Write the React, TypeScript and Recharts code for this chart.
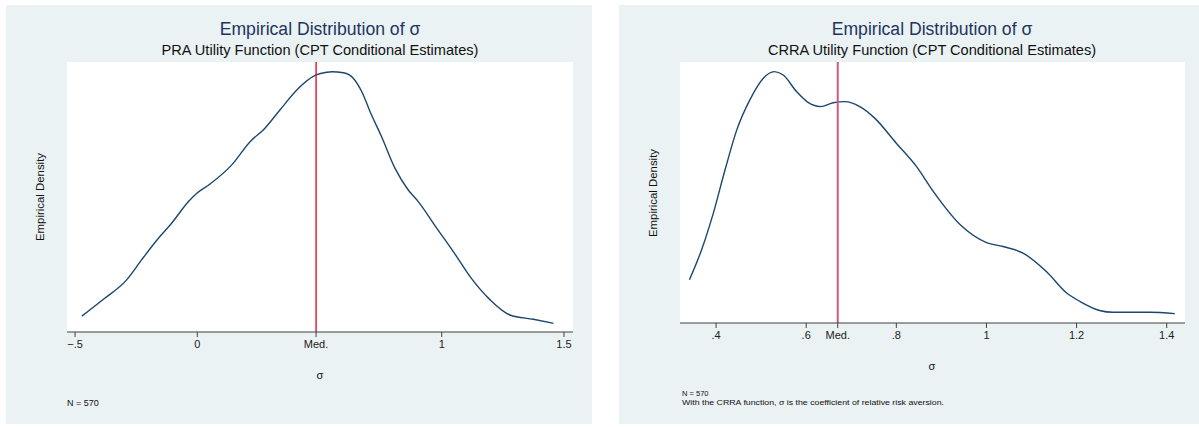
import React from "react";
import { LineChart, Line, XAxis, YAxis, ReferenceLine, CartesianGrid } from "recharts";

// ---- Left panel: PRA utility function ----
const praSigma = [-0.472, -0.384, -0.289, -0.228, -0.159, -0.105, -0.036, -0.002, 0.052, 0.141, 0.216, 0.273, 0.338, 0.41, 0.486, 0.529, 0.55, 0.598, 0.638, 0.673, 0.707, 0.754, 0.809, 0.863, 0.904, 0.98, 1.048, 1.116, 1.198, 1.279, 1.375, 1.457];
const praDensity = [0.059, 0.121, 0.193, 0.267, 0.347, 0.403, 0.483, 0.514, 0.548, 0.619, 0.705, 0.751, 0.822, 0.899, 0.952, 0.962, 0.964, 0.96, 0.94, 0.89, 0.816, 0.723, 0.606, 0.526, 0.483, 0.384, 0.297, 0.205, 0.119, 0.063, 0.047, 0.032];
const praMedian = 0.486;
const praTicks = [-0.5, 0, praMedian, 1, 1.5];
const praTickLabels = ["\u2212.5", "0", "Med.", "1", "1.5"];
const praDomain = [-0.533, 1.537];

// ---- Right panel: CRRA utility function ----
const crraSigma = [0.341, 0.368, 0.394, 0.42, 0.446, 0.475, 0.505, 0.529, 0.549, 0.579, 0.605, 0.632, 0.66, 0.686, 0.719, 0.752, 0.8, 0.845, 0.882, 0.942, 1.0, 1.037, 1.081, 1.133, 1.178, 1.207, 1.251, 1.281, 1.362, 1.418];
const crraDensity = [0.166, 0.281, 0.421, 0.587, 0.74, 0.855, 0.938, 0.963, 0.95, 0.886, 0.844, 0.829, 0.844, 0.848, 0.829, 0.785, 0.689, 0.599, 0.504, 0.376, 0.308, 0.293, 0.268, 0.197, 0.115, 0.083, 0.048, 0.041, 0.041, 0.036];
const crraMedian = 0.67;
const crraTicks = [0.4, 0.6, crraMedian, 0.8, 1, 1.2, 1.4];
const crraTickLabels = [".4", ".6", "Med.", ".8", "1", "1.2", "1.4"];
const crraDomain = [0.32, 1.4406];

const FONT = "'Liberation Sans', Arial, Helvetica, sans-serif";
const BG = "#eaf2f3";
const LINE = "#1a476f";
const TITLE = "#1e3560";

const praData = praSigma.map((s, i) => ({ s, d: praDensity[i] }));
const crraData = crraSigma.map((s, i) => ({ s, d: crraDensity[i] }));

function Panel(props: {
  left: number; width: number; data: { s: number; d: number }[];
  ticks: number[]; labels: string[]; domain: number[]; median: number;
  marginRight: number; marginBottom: number; medColor: string; medWidth: number;
}) {
  const fmt = (v: number) => {
    const i = props.ticks.findIndex((t) => Math.abs(t - v) < 1e-9);
    return i >= 0 ? props.labels[i] : String(v);
  };
  return (
    <div style={{ position: "absolute", left: props.left, top: 5, width: props.width, height: 419, background: BG }}>
      <LineChart
        width={props.width}
        height={419}
        data={props.data}
        margin={{ top: 57, left: 61, right: props.marginRight, bottom: props.marginBottom }}
      >
        <CartesianGrid fill="#ffffff" horizontal={false} vertical={false} stroke="none" />
        <XAxis
          dataKey="s"
          type="number"
          domain={props.domain}
          allowDataOverflow
          ticks={props.ticks}
          tickFormatter={fmt}
          interval={0}
          height={30}
          tickSize={5}
          tickMargin={3}
          axisLine={{ stroke: "#404040", strokeWidth: 1.2 }}
          tickLine={{ stroke: "#404040" }}
          tick={{ fill: "#222", fontSize: 11, fontFamily: FONT }}
        />
        <YAxis
          type="number"
          domain={[0, 1]}
          allowDataOverflow
          width={0}
          tick={false}
          tickLine={false}
          axisLine={{ stroke: "#404040", strokeWidth: 1.2 }}
        />
        <Line
          type="monotone"
          dataKey="d"
          stroke={LINE}
          strokeWidth={1.4}
          dot={false}
          isAnimationActive={false}
        />
        <ReferenceLine x={props.median} stroke={props.medColor} strokeWidth={props.medWidth} ifOverflow="extendDomain" />
      </LineChart>
    </div>
  );
}

export default function App() {
  return (
    <div style={{ position: "absolute", left: 0, top: 0, width: 1199, height: 427, background: "#ffffff", fontFamily: FONT }}>
      <Panel left={6} width={586} data={praData} ticks={praTicks} labels={praTickLabels} domain={praDomain}
        median={praMedian} marginRight={19} marginBottom={62} medColor="#e0001c" medWidth={1.3} />
      <Panel left={619} width={580} data={crraData} ticks={crraTicks} labels={crraTickLabels} domain={crraDomain}
        median={crraMedian} marginRight={14} marginBottom={71} medColor="#d4557a" medWidth={2} />
      <svg width={1199} height={427} style={{ position: "absolute", left: 0, top: 0, pointerEvents: "none" }}>
        <g fontFamily={FONT}>
          <text x={320} y={35} textAnchor="middle" fontSize={17.6} fill={TITLE}>Empirical Distribution of σ</text>
          <text x={320} y={55} textAnchor="middle" fontSize={14.6} fill="#111">PRA Utility Function (CPT Conditional Estimates)</text>
          <text x={0} y={0} transform="translate(44,197) rotate(-90)" textAnchor="middle" fontSize={11.4} fill="#111">Empirical Density</text>
          <text x={320} y={379} textAnchor="middle" fontSize={11} fill="#111">σ</text>
          <text x={67} y={406} fontSize={9} fill="#111">N = 570</text>

          <text x={932} y={35} textAnchor="middle" fontSize={17.6} fill={TITLE}>Empirical Distribution of σ</text>
          <text x={932} y={55} textAnchor="middle" fontSize={14.6} fill="#111">CRRA Utility Function (CPT Conditional Estimates)</text>
          <text x={0} y={0} transform="translate(657,193) rotate(-90)" textAnchor="middle" fontSize={11.4} fill="#111">Empirical Density</text>
          <text x={932} y={370} textAnchor="middle" fontSize={11} fill="#111">σ</text>
          <text x={682} y={396} fontSize={7.5} fill="#111">N = 570</text>
          <text x={682} y={404.5} fontSize={7.5} fill="#111" textLength={262} lengthAdjust="spacingAndGlyphs">With the CRRA function, σ is the coefficient of relative risk aversion.</text>
        </g>
      </svg>
    </div>
  );
}
